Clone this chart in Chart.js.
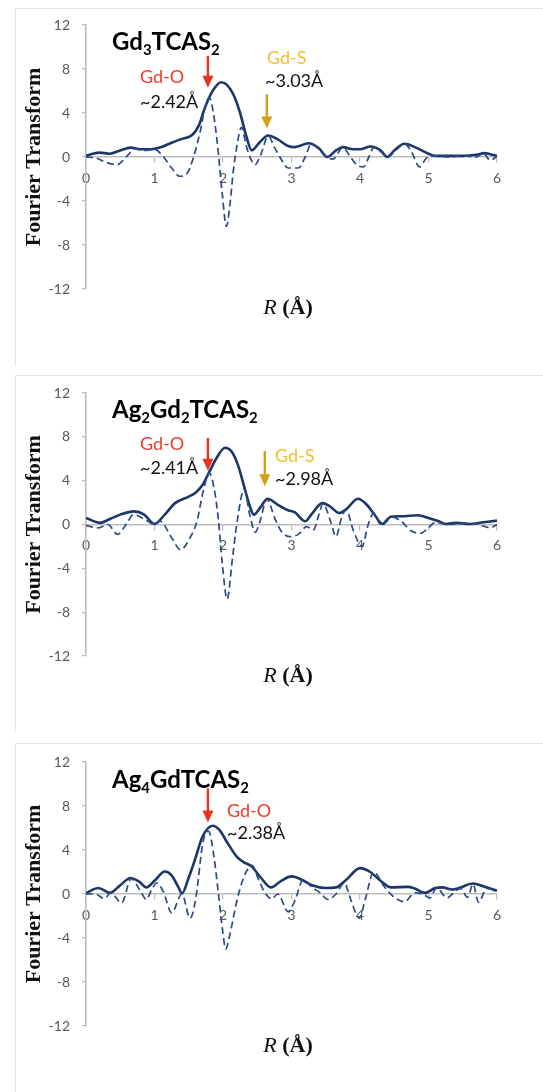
<!DOCTYPE html>
<html>
<head>
<meta charset="utf-8">
<script src="https://cdn.jsdelivr.net/npm/chart.js@4.4.1/dist/chart.umd.min.js"></script>
<style>
  html, body { margin: 0; padding: 0; background: #fff; }
  body { position: relative; width: 543px; height: 1092px; overflow: hidden; }
  .frame { position: absolute; left: 15px; right: 0; border-left: 1px solid #e2e2e2; border-top: 1px solid #e2e2e2; }
  canvas { position: absolute; left: 0; }
  .txt { position: absolute; transform: translateY(-50%); white-space: nowrap; font-family: "Lato", "Open Sans", sans-serif; }
  .title { font-size: 24px; font-weight: 700; color: #000; }
  .title sub { font-size: 0.62em; vertical-align: -0.3em; }
  .lbl { font-size: 18px; color: #111; }
  .red { color: #ee3b2b; }
  .gold { color: #f4c02b; }
  .xt { font-family: "Liberation Serif", "Times New Roman", serif; font-size: 22px; color: #111; transform: translate(-50%, -50%); }
</style>
</head>
<body>
<div class="frame" style="top:8px;height:357px"></div>
<div class="frame" style="top:375px;height:355px"></div>
<div class="frame" style="top:743px;height:349px"></div>

<canvas id="c1" width="543" height="365" style="top:0px"></canvas>
<canvas id="c2" width="543" height="360" style="top:370px"></canvas>
<canvas id="c3" width="543" height="362" style="top:730px"></canvas>

<div class="txt title" style="left:112px;top:42px">Gd<sub>3</sub>TCAS<sub>2</sub></div>
<div class="txt lbl red" style="left:140px;top:76px">Gd-O</div>
<div class="txt lbl" style="left:140px;top:101px">~2.42Å</div>
<div class="txt lbl gold" style="left:267px;top:57px">Gd-S</div>
<div class="txt lbl" style="left:265px;top:80px">~3.03Å</div>
<div class="txt xt" style="left:288px;top:307px"><i>R</i> <b>(Å)</b></div>

<div class="txt title" style="left:112px;top:410px">Ag<sub>2</sub>Gd<sub>2</sub>TCAS<sub>2</sub></div>
<div class="txt lbl red" style="left:140px;top:443px">Gd-O</div>
<div class="txt lbl" style="left:140px;top:467px">~2.41Å</div>
<div class="txt lbl gold" style="left:275px;top:455px">Gd-S</div>
<div class="txt lbl" style="left:275px;top:478px">~2.98Å</div>
<div class="txt xt" style="left:288px;top:675px"><i>R</i> <b>(Å)</b></div>

<div class="txt title" style="left:112px;top:780px">Ag<sub>4</sub>GdTCAS<sub>2</sub></div>
<div class="txt lbl red" style="left:227px;top:810px">Gd-O</div>
<div class="txt lbl" style="left:227px;top:832px">~2.38Å</div>
<div class="txt xt" style="left:288px;top:1045px"><i>R</i> <b>(Å)</b></div>

<script>
// --- Gd3TCAS2 ---
const gd3MagR = [0, 0.1, 0.2, 0.35, 0.5, 0.65, 0.8, 0.95, 1.1, 1.25, 1.4, 1.55, 1.65, 1.72, 1.79, 1.88, 1.97, 2.05, 2.15, 2.25, 2.34, 2.42, 2.53, 2.66, 2.8, 2.95, 3.05, 3.25, 3.4, 3.52, 3.65, 3.75, 3.9, 4.0, 4.15, 4.3, 4.4, 4.5, 4.65, 4.8, 5.0, 5.1, 5.3, 5.5, 5.7, 5.82, 5.9, 6.0]
const gd3Mag = [0.1, 0.3, 0.4, 0.3, 0.6, 0.85, 0.7, 0.7, 0.9, 1.3, 1.65, 2.0, 2.9, 4.2, 5.3, 6.3, 6.8, 6.6, 5.7, 4.0, 1.9, 0.6, 1.3, 1.95, 1.6, 1.0, 0.9, 1.25, 0.8, 0.0, 0.6, 0.9, 0.7, 0.7, 0.95, 0.6, 0.0, 0.6, 1.2, 0.9, 0.3, 0.1, 0.1, 0.1, 0.2, 0.35, 0.25, 0.1]
const gd3ReR = [0, 0.15, 0.3, 0.45, 0.6, 0.72, 0.85, 1.0, 1.12, 1.25, 1.37, 1.48, 1.57, 1.67, 1.74, 1.8, 1.86, 1.93, 1.99, 2.05, 2.1, 2.15, 2.2, 2.27, 2.34, 2.4, 2.47, 2.55, 2.66, 2.75, 2.83, 2.95, 3.1, 3.2, 3.29, 3.4, 3.52, 3.6, 3.75, 3.85, 3.95, 4.05, 4.13, 4.2, 4.3, 4.4, 4.52, 4.65, 4.75, 4.87, 4.97, 5.1, 5.3, 5.5, 5.7, 5.8, 5.9, 6.0]
const gd3Re = [0, -0.1, -0.5, -0.7, 0.1, 0.75, 0.6, 0.7, 0.1, -1.0, -1.75, -1.45, 0, 2.4, 4.6, 5.4, 4.0, 0.5, -3.4, -6.3, -4.4, -1.3, 0.9, 2.7, 1.0, -0.1, -0.7, 0.2, 1.9, 0.9, 0.0, -1.0, -1.0, 0.0, 1.2, 0.7, 0.0, -0.2, 0.85, 0.1, -0.7, -0.9, 0.0, 0.85, 0.5, 0.0, 0.6, 1.2, 0.5, -0.9, -0.1, 0.1, 0.0, 0.1, 0.0, 0.35, -0.3, 0.05]

// --- Ag2Gd2TCAS2 ---
const ag2MagR = [0, 0.2, 0.35, 0.5, 0.7, 0.85, 1.0, 1.15, 1.3, 1.5, 1.6, 1.7, 1.8, 1.9, 2.03, 2.12, 2.22, 2.32, 2.4, 2.45, 2.55, 2.65, 2.8, 2.95, 3.05, 3.2, 3.3, 3.45, 3.55, 3.7, 3.8, 3.97, 4.1, 4.2, 4.33, 4.45, 4.6, 4.85, 5.0, 5.15, 5.25, 5.4, 5.6, 5.8, 6.0]
const ag2Mag = [0.6, 0.15, 0.5, 0.9, 1.2, 0.9, 0.05, 0.9, 1.95, 2.55, 2.9, 3.6, 4.8, 6.0, 7.0, 6.7, 5.4, 3.2, 1.5, 0.9, 1.6, 2.35, 1.8, 1.3, 1.1, 0.3, 1.0, 1.95, 1.7, 1.05, 1.4, 2.35, 1.8, 1.0, 0.05, 0.7, 0.75, 0.85, 0.6, 0.3, 0.05, 0.15, 0.05, 0.2, 0.35]
const ag2ReR = [0, 0.18, 0.32, 0.46, 0.6, 0.69, 0.85, 1.0, 1.08, 1.25, 1.38, 1.52, 1.62, 1.71, 1.8, 1.87, 1.93, 1.99, 2.06, 2.14, 2.2, 2.31, 2.39, 2.47, 2.54, 2.64, 2.76, 2.86, 2.97, 3.1, 3.22, 3.32, 3.4, 3.46, 3.57, 3.65, 3.73, 3.8, 3.9, 4.03, 4.12, 4.2, 4.3, 4.45, 4.6, 4.75, 4.88, 5.0, 5.1, 5.3, 5.5, 5.7, 5.9, 6.0]
const ag2Re = [-0.1, -0.3, 0.0, -0.9, 0.15, 0.9, 0.5, 0.0, 0.3, -1.2, -2.3, -1.2, 0.3, 3.0, 4.7, 3.3, 0.6, -3.6, -6.8, -3.0, 0.0, 3.2, 0.9, -0.7, 0.3, 2.3, 0.5, -0.7, -1.1, -0.9, -0.2, -0.5, 0.9, 1.9, 0.3, -1.1, 0.6, 1.35, -0.5, -2.0, 0.0, 1.0, 0.0, 0.7, 0.3, -0.6, -0.8, -0.3, 0.2, 0.0, 0.1, 0.05, -0.3, 0.0]

// --- Ag4GdTCAS2 ---
const ag4MagR = [0, 0.1, 0.18, 0.35, 0.5, 0.65, 0.78, 0.88, 1.0, 1.15, 1.25, 1.35, 1.4, 1.5, 1.6, 1.7, 1.85, 1.95, 2.05, 2.2, 2.3, 2.42, 2.55, 2.7, 2.85, 3.0, 3.15, 3.3, 3.5, 3.65, 3.8, 4.0, 4.15, 4.3, 4.45, 4.7, 4.8, 4.95, 5.1, 5.2, 5.35, 5.45, 5.65, 5.8, 6.0]
const ag4Mag = [0.05, 0.4, 0.55, 0.1, 0.8, 1.45, 1.1, 0.6, 1.2, 2.05, 1.7, 0.6, 0.05, 1.5, 3.3, 5.2, 6.2, 5.8, 4.8, 3.4, 2.9, 2.5, 1.5, 0.6, 1.2, 1.6, 1.3, 0.8, 0.55, 0.6, 1.3, 2.35, 2.0, 1.2, 0.6, 0.65, 0.5, 0.1, 0.55, 0.6, 0.4, 0.55, 0.95, 0.7, 0.3]
const ag4ReR = [0, 0.13, 0.27, 0.36, 0.52, 0.66, 0.8, 0.88, 0.96, 1.03, 1.13, 1.25, 1.4, 1.52, 1.6, 1.71, 1.79, 1.87, 1.93, 1.99, 2.04, 2.1, 2.2, 2.29, 2.42, 2.52, 2.6, 2.71, 2.8, 2.95, 3.05, 3.17, 3.3, 3.42, 3.53, 3.65, 3.77, 3.87, 3.99, 4.08, 4.2, 4.35, 4.5, 4.65, 4.8, 4.92, 5.02, 5.12, 5.27, 5.4, 5.47, 5.57, 5.65, 5.73, 5.85, 6.0]
const ag4Re = [0, 0.0, -0.4, 0.1, -0.8, 1.4, 0.2, -0.5, 0.4, 1.0, 0.2, -1.7, 0.0, -2.2, -0.5, 4.8, 5.7, 3.3, 0.2, -3.1, -5.0, -3.7, -0.7, 1.3, 2.6, 1.3, 0.25, -0.45, 0.0, -1.6, -0.6, 1.3, 0.6, 0.1, -0.5, 0.0, 1.0, -0.6, -2.2, -0.4, 2.0, 0.7, -0.3, -0.7, 0.1, 0.0, -0.35, 0.55, -0.35, 0.3, 0.5, -0.3, 0.9, -0.75, 0.5, 0.3]

const yTicks = [-12, -8, -4, 0, 4, 8, 12]
const xTicks = [0, 1, 2, 3, 4, 5, 6]

const navy = "#1c3767"
const dashNavy = "#2c4a86"
const axisGray = "#bdbdbd"
const redArrow = "#e5341f"
const goldArrow = "#d4a017"

const pts = (xs, ys) => xs.map((x, i) => ({ x: x, y: ys[i] }))

// arrows are given in data units: r, start value, tip value
const arrowPlugin = {
  id: "arrows",
  afterDatasetsDraw(chart, args, opts) {
    const { ctx, scales: { x, y } } = chart
    ;(opts.list || []).forEach(a => {
      const px = x.getPixelForValue(a.r)
      const y1 = y.getPixelForValue(a.from)
      const y2 = y.getPixelForValue(a.to)
      const head = 12
      ctx.save()
      ctx.strokeStyle = a.color
      ctx.fillStyle = a.color
      ctx.lineWidth = 2.4
      ctx.beginPath()
      ctx.moveTo(px, y1)
      ctx.lineTo(px, y2 - head + 1)
      ctx.stroke()
      ctx.beginPath()
      ctx.moveTo(px - 5.5, y2 - head)
      ctx.lineTo(px + 5.5, y2 - head)
      ctx.lineTo(px, y2)
      ctx.closePath()
      ctx.fill()
      ctx.restore()
    })
  }
}

function makeChart(id, magR, mag, reR, re, pad, arrows) {
  return new Chart(document.getElementById(id), {
    type: "line",
    data: {
      datasets: [
        {
          data: pts(reR, re),
          borderColor: dashNavy,
          borderWidth: 1.7,
          borderDash: [7, 4],
          pointRadius: 0,
          cubicInterpolationMode: "monotone",
          fill: false
        },
        {
          data: pts(magR, mag),
          borderColor: navy,
          borderWidth: 2.6,
          pointRadius: 0,
          cubicInterpolationMode: "monotone",
          fill: false
        }
      ]
    },
    options: {
      responsive: false,
      animation: false,
      devicePixelRatio: 1,
      layout: { padding: { left: 21, right: 46, top: pad.top, bottom: pad.bottom } },
      plugins: {
        legend: { display: false },
        tooltip: { enabled: false },
        arrows: { list: arrows }
      },
      scales: {
        x: {
          type: "linear",
          position: { y: 0 },
          min: 0,
          max: 6,
          afterBuildTicks: (s) => { s.ticks = xTicks.map(v => ({ value: v })) },
          ticks: { color: "#595959", font: { family: "Lato", size: 14 }, padding: 8 },
          grid: { display: true, drawOnChartArea: false, drawTicks: true, tickLength: 5, color: axisGray, lineWidth: 1.2 },
          border: { display: true, color: axisGray, width: 1.6 }
        },
        y: {
          min: -12,
          max: 12,
          afterBuildTicks: (s) => { s.ticks = yTicks.map(v => ({ value: v })) },
          afterFit: (s) => { s.width = 86 - 21 },
          ticks: { color: "#595959", font: { family: "Lato", size: 14 }, padding: 12 },
          grid: { display: true, drawOnChartArea: false, drawTicks: true, tickLength: 4, color: axisGray, lineWidth: 1.2 },
          border: { display: true, color: axisGray, width: 1.6 },
          title: {
            display: true,
            text: "Fourier Transform",
            color: "#111",
            padding: 0,
            font: { family: "Liberation Serif", size: 22, weight: "bold" }
          }
        }
      }
    },
    plugins: [arrowPlugin]
  })
}

makeChart("c1", gd3MagR, gd3Mag, gd3ReR, gd3Re, { top: 25, bottom: 76 }, [
  { r: 1.78, from: 9.2, to: 6.3, color: redArrow },
  { r: 2.64, from: 5.7, to: 2.6, color: goldArrow }
])
makeChart("c2", ag2MagR, ag2Mag, ag2ReR, ag2Re, { top: 23, bottom: 74 }, [
  { r: 1.78, from: 7.9, to: 4.9, color: redArrow },
  { r: 2.61, from: 6.7, to: 3.5, color: goldArrow }
])
makeChart("c3", ag4MagR, ag4Mag, ag4ReR, ag4Re, { top: 32, bottom: 66 }, [
  { r: 1.78, from: 9.6, to: 6.5, color: redArrow }
])
</script>
</body>
</html>
